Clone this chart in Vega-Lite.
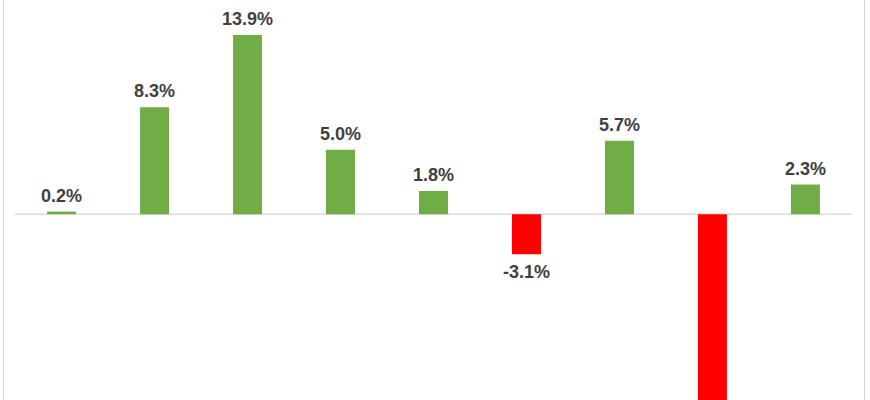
{
  "$schema": "https://vega.github.io/schema/vega-lite/v6.json",
  "width": 861,
  "height": 410,
  "autosize": "none",
  "padding": {"left": 3, "right": 6, "top": -5, "bottom": -5},
  "background": "white",
  "data": {
    "values": [
      {"cat": "A", "v": 0.2, "lbl": "0.2%"},
      {"cat": "B", "v": 8.3, "lbl": "8.3%"},
      {"cat": "C", "v": 13.9, "lbl": "13.9%"},
      {"cat": "D", "v": 5.0, "lbl": "5.0%"},
      {"cat": "E", "v": 1.8, "lbl": "1.8%"},
      {"cat": "F", "v": -3.1, "lbl": "-3.1%"},
      {"cat": "G", "v": 5.7, "lbl": "5.7%"},
      {"cat": "H", "v": -16.0, "lbl": "-16.0%"},
      {"cat": "I", "v": 2.3, "lbl": "2.3%"}
    ]
  },
  "encoding": {
    "x": {
      "field": "cat",
      "type": "nominal",
      "axis": null,
      "scale": {"paddingInner": 0, "paddingOuter": 0.13}
    }
  },
  "layer": [
    {
      "mark": {
        "type": "bar",
        "width": {"band": 1},
        "fillOpacity": 0,
        "stroke": "#d9d9d9",
        "strokeWidth": 1
      },
      "encoding": {
        "y": {"datum": 0, "type": "quantitative", "axis": null},
        "y2": {"datum": 0}
      }
    },
    {
      "mark": {"type": "bar", "width": {"band": 0.312}, "clip": true},
      "encoding": {
        "y": {
          "field": "v",
          "type": "quantitative",
          "axis": null,
          "scale": {"domain": [-14.8, 17], "nice": false, "zero": false}
        },
        "color": {
          "condition": {"test": "datum.v < 0", "value": "#FF0000"},
          "value": "#70AD47"
        }
      }
    },
    {
      "transform": [{"filter": "datum.v >= 0"}],
      "mark": {
        "type": "text",
        "font": "Liberation Sans",
        "fontWeight": "bold",
        "fontSize": 18,
        "color": "#404040",
        "baseline": "alphabetic",
        "dy": -10,
        "clip": true
      },
      "encoding": {
        "y": {"field": "v", "type": "quantitative", "axis": null},
        "text": {"field": "lbl", "type": "nominal"}
      }
    },
    {
      "transform": [{"filter": "datum.v < 0 && datum.v > -12"}],
      "mark": {
        "type": "text",
        "font": "Liberation Sans",
        "fontWeight": "bold",
        "fontSize": 18,
        "color": "#404040",
        "baseline": "alphabetic",
        "dy": 24,
        "clip": true
      },
      "encoding": {
        "y": {"field": "v", "type": "quantitative", "axis": null},
        "text": {"field": "lbl", "type": "nominal"}
      }
    }
  ],
  "config": {
    "view": {"stroke": "#d9d9d9"}
  }
}
